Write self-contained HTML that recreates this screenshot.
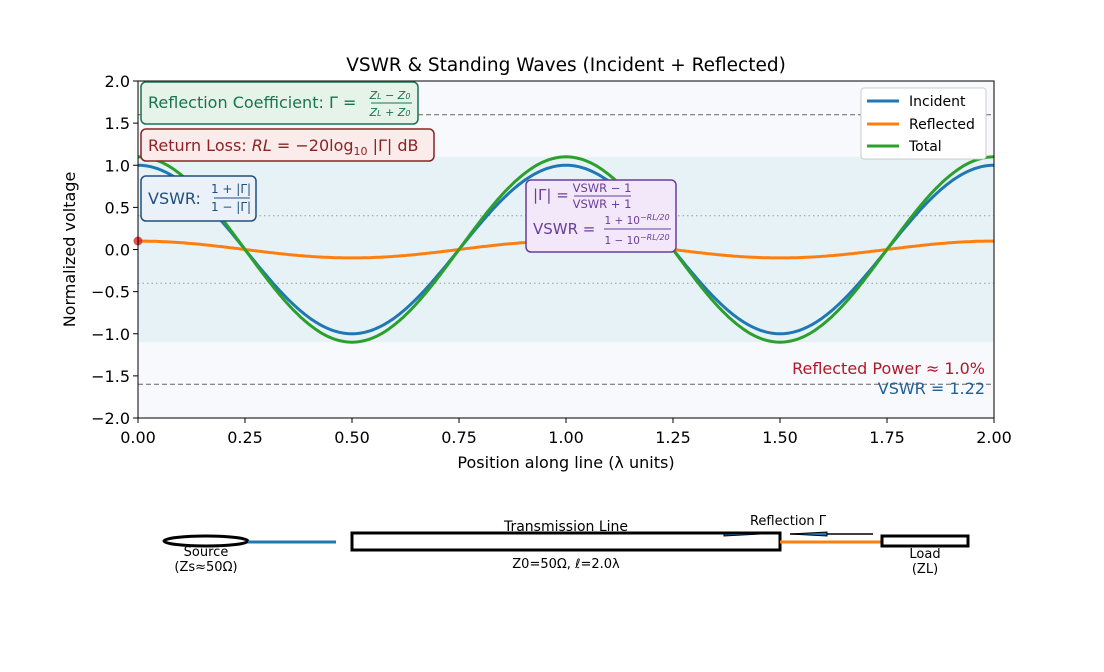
<!DOCTYPE html><html><head><meta charset="utf-8"><style>body{margin:0;background:#fff}svg{display:block;font-family:"DejaVu Sans","Liberation Sans",sans-serif}</style></head><body>
<svg id="s" width="1104" height="672" xmlns="http://www.w3.org/2000/svg">
<rect x="138" y="81" width="856" height="337" fill="#f7f9fd"/>
<rect x="138" y="156.8" width="856" height="185.4" fill="#e6f2f6"/>
<line x1="138" x2="994" y1="114.7" y2="114.7" stroke="#666" stroke-dasharray="5,3"/>
<line x1="138" x2="994" y1="384.3" y2="384.3" stroke="#666" stroke-dasharray="5,3"/>
<line x1="138" x2="994" y1="215.8" y2="215.8" stroke="#999" stroke-dasharray="1.5,3"/>
<line x1="138" x2="994" y1="283.2" y2="283.2" stroke="#999" stroke-dasharray="1.5,3"/>
<g id="curves" fill="none" stroke-width="3"></g>
<circle cx="138" cy="241" r="4.5" fill="#d62728" fill-opacity="0.8"/>
<rect x="138" y="81" width="856" height="337" fill="none" stroke="#000"/>
<g font-size="16" text-anchor="end" fill="#000" id="yt"></g>
<g font-size="16" text-anchor="middle" id="xt"></g>
<text x="566" y="71" font-size="18.5" text-anchor="middle">VSWR &amp; Standing Waves (Incident + Reflected)</text>
<text x="566" y="468" font-size="16" text-anchor="middle">Position along line (λ units)</text>
<text transform="translate(75,249.5) rotate(-90)" font-size="16" text-anchor="middle">Normalized voltage</text>
<rect x="141" y="82" width="277" height="42" rx="5" fill="#e5f3e8" stroke="#1a7350" stroke-width="1.5"/>
<text x="148" y="108" font-size="16" fill="#1a7350">Reflection Coefficient:  Γ =</text>
<text x="390" y="99" font-size="11" fill="#1a7350" text-anchor="middle" font-style="italic">Z<tspan font-size="8">L</tspan> − Z<tspan font-size="8">0</tspan></text>
<line x1="371" x2="412" y1="103" y2="103" stroke="#1a7350"/>
<text x="390" y="116" font-size="11" fill="#1a7350" text-anchor="middle" font-style="italic">Z<tspan font-size="8">L</tspan> + Z<tspan font-size="8">0</tspan></text>
<rect x="141" y="129" width="293" height="32" rx="5" fill="#fbeceb" stroke="#8b2323" stroke-width="1.5"/>
<text x="148" y="151" font-size="16" fill="#8b2323">Return Loss:  <tspan font-style="italic">RL</tspan> = −20log<tspan font-size="11" dy="4">10</tspan><tspan dy="-4"> |Γ| dB</tspan></text>
<rect x="141" y="176" width="115" height="45" rx="5" fill="#eaf1f9" stroke="#1e4f7e" stroke-width="1.5"/>
<text x="148" y="204" font-size="16" fill="#1e4f7e">VSWR:</text>
<text x="231" y="193" font-size="12" fill="#1e4f7e" text-anchor="middle">1 + |Γ|</text>
<line x1="214" x2="250" y1="198" y2="198" stroke="#1e4f7e"/>
<text x="231" y="211" font-size="12" fill="#1e4f7e" text-anchor="middle">1 − |Γ|</text>
<rect x="526" y="180" width="150" height="72" rx="5" fill="#f3e8f9" stroke="#6a3d9a" stroke-width="1.5"/>
<text x="533" y="200" font-size="15" fill="#6a3d9a">|Γ| =</text>
<text x="602" y="192" font-size="11.5" fill="#6a3d9a" text-anchor="middle">VSWR − 1</text>
<line x1="574" x2="631" y1="196" y2="196" stroke="#6a3d9a"/>
<text x="602" y="208" font-size="11.5" fill="#6a3d9a" text-anchor="middle">VSWR + 1</text>
<text x="533" y="234" font-size="15" fill="#6a3d9a">VSWR =</text>
<text x="637" y="224" font-size="10.5" fill="#6a3d9a" text-anchor="middle">1 + 10<tspan font-size="8" dy="-4" font-style="italic">−RL/20</tspan></text>
<line x1="604" x2="671" y1="229" y2="229" stroke="#6a3d9a"/>
<text x="637" y="244" font-size="10.5" fill="#6a3d9a" text-anchor="middle">1 − 10<tspan font-size="8" dy="-4" font-style="italic">−RL/20</tspan></text>
<rect x="861" y="88" width="125" height="71" rx="3" fill="#fff" stroke="#ccc"/>
<line x1="867" x2="899" y1="101" y2="101" stroke="#1f77b4" stroke-width="3"/>
<line x1="867" x2="899" y1="124" y2="124" stroke="#ff7f0e" stroke-width="3"/>
<line x1="867" x2="899" y1="146" y2="146" stroke="#2ca02c" stroke-width="3"/>
<g font-size="14"><text x="909" y="106">Incident</text><text x="909" y="129">Reflected</text><text x="909" y="151">Total</text></g>
<text x="985" y="374" font-size="16" fill="#b2182b" text-anchor="end">Reflected Power ≈ 1.0%</text>
<text x="985" y="394" font-size="16" fill="#1f5f99" text-anchor="end">VSWR = 1.22</text>
<ellipse cx="206" cy="541" rx="42" ry="5" fill="none" stroke="#000" stroke-width="3"/>
<line x1="248" x2="336" y1="542" y2="542" stroke="#1f77b4" stroke-width="3"/>
<rect x="352" y="533" width="428" height="17" fill="none" stroke="#000" stroke-width="3"/>
<line x1="780" x2="882" y1="542" y2="542" stroke="#ff7f0e" stroke-width="3"/>
<rect x="882" y="536" width="86" height="10" fill="none" stroke="#000" stroke-width="3"/>
<polygon points="724,534 780,533 724,536" fill="#1f77b4" stroke="#000"/>
<line x1="790" x2="873" y1="534" y2="534" stroke="#000" stroke-width="1.5"/>
<polygon points="790,534 827,532 827,536" fill="#1f77b4" stroke="#000"/>
<g font-size="13" text-anchor="middle"><text x="566" y="531" font-size="14">Transmission Line</text><text x="566" y="568">Z0=50Ω, ℓ=2.0λ</text><text x="788" y="525">Reflection Γ</text><text x="206" y="556">Source</text><text x="206" y="571">(Zs≈50Ω)</text><text x="925" y="558">Load</text><text x="925" y="573">(ZL)</text></g>
</svg>
<script>
var X=x=>138+428*x,Y=y=>249.5-84.25*y,ns="http://www.w3.org/2000/svg";
function p(a,c){var d="";for(var i=0;i<=400;i++){var x=i/200;d+=(i?"L":"M")+X(x).toFixed(1)+","+Y(a*Math.cos(2*Math.PI*x)).toFixed(1)}var e=document.createElementNS(ns,"path");e.setAttribute("d",d);e.setAttribute("stroke",c);document.getElementById("curves").appendChild(e)}
p(1,"#1f77b4");p(0.1,"#ff7f0e");p(1.1,"#2ca02c");
var yt=document.getElementById("yt"),xt=document.getElementById("xt"),s=document.getElementById("s");
[2,1.5,1,0.5,0,-0.5,-1,-1.5,-2].forEach(v=>{var t=document.createElementNS(ns,"text");t.setAttribute("x",130);t.setAttribute("y",Y(v)+6);t.textContent=(v<0?"−":"")+Math.abs(v).toFixed(1);yt.appendChild(t);var l=document.createElementNS(ns,"line");l.setAttribute("x1",133);l.setAttribute("x2",138);l.setAttribute("y1",Y(v));l.setAttribute("y2",Y(v));l.setAttribute("stroke","#000");s.appendChild(l)});
[0,0.25,0.5,0.75,1,1.25,1.5,1.75,2].forEach(v=>{var t=document.createElementNS(ns,"text");t.setAttribute("x",X(v));t.setAttribute("y",443);t.textContent=v.toFixed(2);xt.appendChild(t);var l=document.createElementNS(ns,"line");l.setAttribute("x1",X(v));l.setAttribute("x2",X(v));l.setAttribute("y1",418);l.setAttribute("y2",423);l.setAttribute("stroke","#000");s.appendChild(l)});
</script>
</body></html>
